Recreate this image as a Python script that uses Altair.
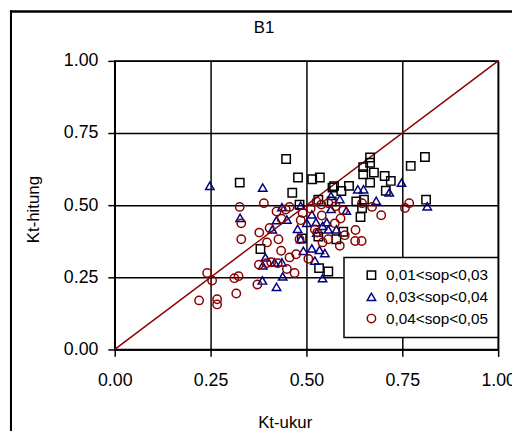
import altair as alt
import pandas as pd

FONT = "Liberation Sans, Arial, sans-serif"

groups = ["0,01<sop<0,03", "0,03<sop<0,04", "0,04<sop<0,05"]

sq_x = [0.447, 0.326, 0.478, 0.463, 0.515, 0.535, 0.482, 0.568, 0.572, 0.591, 0.611, 0.648,
        0.666, 0.666, 0.648, 0.676, 0.666, 0.704, 0.720, 0.707, 0.772, 0.809, 0.812, 0.630,
        0.650, 0.645, 0.641, 0.531, 0.380, 0.533, 0.557, 0.596, 0.578, 0.531, 0.488, 0.566]
sq_y = [0.660, 0.578, 0.596, 0.543, 0.590, 0.596, 0.502, 0.561, 0.566, 0.549, 0.567, 0.632,
        0.665, 0.647, 0.607, 0.613, 0.578, 0.601, 0.584, 0.550, 0.636, 0.667, 0.519, 0.513,
        0.519, 0.490, 0.459, 0.519, 0.348, 0.282, 0.270, 0.408, 0.382, 0.391, 0.385, 0.513]

tri_x = [0.248, 0.386, 0.327, 0.748, 0.716, 0.815, 0.682, 0.634, 0.649, 0.564, 0.587, 0.604,
         0.564, 0.485, 0.436, 0.422, 0.449, 0.411, 0.477, 0.501, 0.514, 0.525, 0.542, 0.553,
         0.557, 0.578, 0.527, 0.485, 0.492, 0.514, 0.534, 0.548, 0.522, 0.542, 0.393, 0.386,
         0.417, 0.436, 0.385, 0.422, 0.438]
tri_y = [0.567, 0.561, 0.456, 0.578, 0.544, 0.496, 0.515, 0.555, 0.555, 0.532, 0.521, 0.481,
         0.487, 0.498, 0.493, 0.448, 0.450, 0.416, 0.418, 0.439, 0.468, 0.441, 0.428, 0.441,
         0.416, 0.416, 0.405, 0.382, 0.342, 0.350, 0.345, 0.334, 0.308, 0.247, 0.319, 0.291,
         0.302, 0.302, 0.239, 0.217, 0.253]

cir_x = [0.220, 0.241, 0.254, 0.267, 0.267, 0.312, 0.323, 0.317, 0.372, 0.376, 0.396, 0.408,
         0.425, 0.377, 0.397, 0.404, 0.330, 0.330, 0.326, 0.389, 0.422, 0.435, 0.446, 0.456,
         0.427, 0.434, 0.456, 0.449, 0.469, 0.473, 0.482, 0.485, 0.490, 0.511, 0.526, 0.539,
         0.557, 0.576, 0.596, 0.589, 0.574, 0.540, 0.522, 0.528, 0.557, 0.542, 0.587, 0.600,
         0.628, 0.627, 0.644, 0.645, 0.671, 0.695, 0.757, 0.768, 0.505]
cir_y = [0.170, 0.265, 0.239, 0.174, 0.156, 0.247, 0.254, 0.194, 0.225, 0.294, 0.299, 0.302,
         0.299, 0.405, 0.371, 0.421, 0.382, 0.437, 0.494, 0.507, 0.478, 0.453, 0.485, 0.494,
         0.382, 0.342, 0.319, 0.279, 0.265, 0.330, 0.382, 0.448, 0.473, 0.488, 0.513, 0.502,
         0.507, 0.496, 0.482, 0.454, 0.437, 0.464, 0.416, 0.405, 0.382, 0.371, 0.359, 0.396,
         0.414, 0.376, 0.376, 0.507, 0.494, 0.465, 0.490, 0.507, 0.314]

diag = [0.0, 1.0]

rows = []
for g, xs, ys in [(groups[0], sq_x, sq_y), (groups[1], tri_x, tri_y), (groups[2], cir_x, cir_y)]:
    for a, b in zip(xs, ys):
        rows.append({"x": a, "y": b, "grp": g})
df = pd.DataFrame(rows)
ddf = pd.DataFrame({"x": diag, "y": diag})

ticks = [0, 0.25, 0.5, 0.75, 1.0]
xscale = alt.Scale(domain=[0, 1], nice=False, zero=False)
yscale = alt.Scale(domain=[0, 1], nice=False, zero=False)

xaxis = alt.Axis(values=ticks, format=".2f", title="Kt-ukur", titleX=172, titleY=79,
                 titleBaseline="alphabetic", labelFlush=False, labelOverlap=False)
yaxis = alt.Axis(values=ticks, format=".2f", title="Kt-hitung", titleX=-77, titleY=150,
                 titleBaseline="alphabetic", titleAngle=-90, labelFlush=False, labelOverlap=False)

line = alt.Chart(ddf).mark_line(color="#8B0000", strokeWidth=1.5).encode(
    x=alt.X("x:Q", scale=xscale, axis=xaxis),
    y=alt.Y("y:Q", scale=yscale, axis=yaxis),
)

pts = alt.Chart(df).mark_point(filled=False, strokeWidth=1.5, size=72, opacity=1).encode(
    x=alt.X("x:Q", scale=xscale),
    y=alt.Y("y:Q", scale=yscale),
    color=alt.Color("grp:N", scale=alt.Scale(domain=groups, range=["#000000", "#000080", "#8B0000"]),
                    legend=alt.Legend(title=None)),
    shape=alt.Shape("grp:N", scale=alt.Scale(domain=groups, range=["square", "triangle-up", "circle"]),
                    legend=alt.Legend(title=None)),
)

frame_left = alt.Chart(ddf).mark_rule(color="black", strokeWidth=2).encode(
    x=alt.value(-105), y=alt.value(-51), y2=alt.value(400))
frame_top = alt.Chart(ddf).mark_rule(color="black", strokeWidth=2).encode(
    x=alt.value(-106), x2=alt.value(420), y=alt.value(-50))

chart = alt.layer(line, pts, frame_left, frame_top).properties(
    width=388, height=292,
    padding={"left": 108, "top": 51, "right": 14, "bottom": 80},
    autosize=alt.AutoSizeParams(type="none"),
    title=alt.TitleParams("B1", fontSize=17, font=FONT, fontWeight="normal", color="black",
                          dx=-43, offset=-28),
).configure_axis(
    grid=True, gridColor="black", gridWidth=1.5, gridOpacity=1,
    domainColor="black", domainWidth=1.5,
    tickColor="black", tickWidth=1.5, tickSize=7,
    labelFont=FONT, labelFontSize=18, labelColor="black", labelPadding=10,
    titleFont=FONT, titleFontSize=17, titleFontWeight="normal", titleColor="black",
).configure_axisX(labelPadding=15).configure_legend(
    orient="none", legendX=232, legendY=199, padding=10,
    strokeColor="black", fillColor="white", strokeWidth=1.5,
    symbolOffset=10, labelOffset=7, labelFont=FONT, labelFontSize=15.5, labelColor="black",
    symbolSize=72, symbolStrokeWidth=1.5, rowPadding=5,
).configure_view(stroke="black", strokeWidth=1.5)

chart.save("out.html", embed_options={"renderer": "svg", "actions": False})
